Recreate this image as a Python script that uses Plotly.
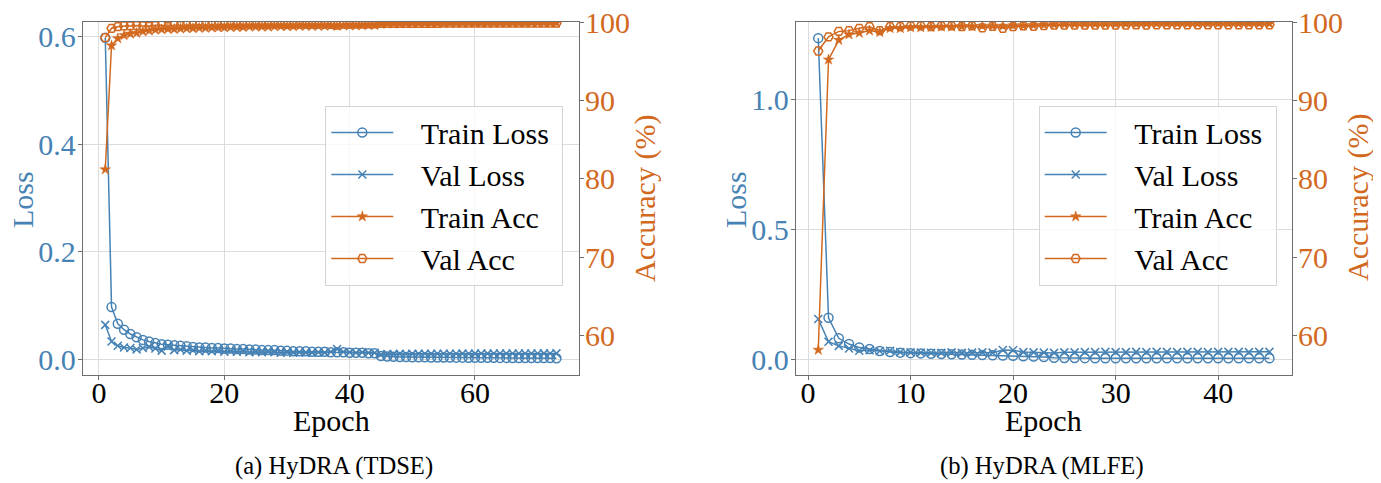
import plotly.graph_objects as go

# ---------------- data ----------------
epochs_tdse = list(range(1, 74))
train_loss_tdse = [0.598, 0.097, 0.066, 0.055, 0.047, 0.041, 0.036, 0.033, 0.030, 0.028,
                   0.027, 0.026, 0.025, 0.024, 0.023, 0.022, 0.022, 0.021, 0.021, 0.020,
                   0.020, 0.019, 0.019, 0.018, 0.018, 0.017, 0.017, 0.017, 0.016, 0.016,
                   0.015, 0.015, 0.015, 0.014, 0.014, 0.014, 0.013, 0.013, 0.013, 0.012,
                   0.012, 0.012, 0.011, 0.011, 0.006, 0.005, 0.0045, 0.004, 0.004, 0.0038,
                   0.0036, 0.0035, 0.0034, 0.0033, 0.0032, 0.0031, 0.003, 0.003, 0.0029, 0.0028,
                   0.0027, 0.0027, 0.0026, 0.0025, 0.0025, 0.0024, 0.0023, 0.0023, 0.0022, 0.0022,
                   0.0021, 0.0021, 0.002]
val_loss_tdse = [0.064, 0.033, 0.025, 0.022, 0.021, 0.018, 0.021, 0.023, 0.020, 0.016,
                 0.024, 0.017, 0.018, 0.016, 0.017, 0.015, 0.016, 0.015, 0.016, 0.014,
                 0.015, 0.014, 0.015, 0.013, 0.014, 0.013, 0.014, 0.013, 0.012, 0.013,
                 0.012, 0.013, 0.012, 0.012, 0.013, 0.012, 0.014, 0.019, 0.014, 0.013,
                 0.012, 0.013, 0.012, 0.012, 0.009, 0.0095, 0.0095, 0.010, 0.0098, 0.010,
                 0.010, 0.0102, 0.010, 0.0103, 0.0102, 0.0104, 0.0103, 0.0105, 0.0104, 0.0105,
                 0.0106, 0.0105, 0.0106, 0.0107, 0.0106, 0.0107, 0.0108, 0.0107, 0.0108, 0.0108,
                 0.0109, 0.0108, 0.0109]
train_acc_tdse = [81.2, 97.0, 97.9, 98.3, 98.5, 98.6, 98.8, 98.9, 99.0, 99.05,
                  99.1, 99.1, 99.15, 99.2, 99.2, 99.25, 99.25, 99.3, 99.3, 99.3,
                  99.35, 99.35, 99.35, 99.4, 99.4, 99.4, 99.4, 99.45, 99.45, 99.45,
                  99.45, 99.5, 99.5, 99.5, 99.5, 99.5, 99.55, 99.5, 99.55, 99.55,
                  99.55, 99.6, 99.6, 99.6, 99.75, 99.8, 99.8, 99.8, 99.82, 99.82,
                  99.83, 99.83, 99.84, 99.84, 99.84, 99.85, 99.85, 99.85, 99.85, 99.86,
                  99.86, 99.86, 99.86, 99.87, 99.87, 99.87, 99.87, 99.87, 99.88, 99.88,
                  99.88, 99.88, 99.88]
val_acc_tdse = [98.0, 99.2, 99.4, 99.5, 99.5, 99.55, 99.5, 99.45, 99.55, 99.6,
                99.4, 99.6, 99.55, 99.6, 99.6, 99.65, 99.6, 99.65, 99.6, 99.7,
                99.65, 99.7, 99.65, 99.7, 99.7, 99.7, 99.7, 99.72, 99.72, 99.7,
                99.72, 99.72, 99.74, 99.72, 99.74, 99.74, 99.7, 99.6, 99.72, 99.74,
                99.75, 99.74, 99.75, 99.75, 99.82, 99.82, 99.83, 99.83, 99.83, 99.84,
                99.84, 99.84, 99.84, 99.84, 99.85, 99.85, 99.85, 99.85, 99.85, 99.85,
                99.85, 99.85, 99.85, 99.85, 99.85, 99.85, 99.85, 99.85, 99.85, 99.85,
                99.85, 99.85, 99.85]

epochs_mlfe = list(range(1, 46))
train_loss_mlfe = [1.235, 0.160, 0.081, 0.059, 0.046, 0.040, 0.032, 0.028, 0.026, 0.024,
                   0.023, 0.022, 0.021, 0.020, 0.019, 0.018, 0.017, 0.016, 0.015, 0.014,
                   0.012, 0.011, 0.009, 0.006, 0.005, 0.005, 0.0048, 0.0047, 0.0046, 0.0045,
                   0.0045, 0.0044, 0.0044, 0.0043, 0.0043, 0.0042, 0.0042, 0.0042, 0.0041, 0.0041,
                   0.0041, 0.004, 0.004, 0.004, 0.004]
val_loss_mlfe = [0.155, 0.068, 0.052, 0.042, 0.033, 0.035, 0.032, 0.033, 0.028, 0.027,
                 0.026, 0.025, 0.025, 0.027, 0.025, 0.026, 0.027, 0.026, 0.036, 0.035,
                 0.028, 0.027, 0.026, 0.025, 0.027, 0.027, 0.028, 0.028, 0.029, 0.028,
                 0.028, 0.029, 0.028, 0.029, 0.029, 0.028, 0.029, 0.029, 0.028, 0.029,
                 0.029, 0.029, 0.028, 0.029, 0.029]
train_acc_mlfe = [58.2, 95.2, 97.7, 98.4, 98.6, 98.9, 98.7, 99.2, 99.2, 99.3,
                  99.3, 99.35, 99.4, 99.4, 99.45, 99.45, 99.5, 99.5, 99.5, 99.55,
                  99.55, 99.6, 99.65, 99.7, 99.72, 99.74, 99.75, 99.75, 99.76, 99.76,
                  99.77, 99.77, 99.78, 99.78, 99.78, 99.79, 99.79, 99.79, 99.8, 99.8,
                  99.8, 99.8, 99.8, 99.8, 99.8]
val_acc_mlfe = [96.3, 98.1, 98.8, 98.9, 99.2, 99.4, 98.9, 99.4, 99.4, 99.5,
                99.5, 99.4, 99.5, 99.5, 99.4, 99.5, 99.25, 99.45, 99.2, 99.4,
                99.5, 99.45, 99.55, 99.6, 99.6, 99.6, 99.62, 99.6, 99.62, 99.62,
                99.62, 99.63, 99.62, 99.63, 99.63, 99.63, 99.64, 99.63, 99.64, 99.64,
                99.64, 99.64, 99.64, 99.64, 99.64]

loss_ticks_tdse = [0.0, 0.2, 0.4, 0.6]
loss_ticks_mlfe = [0.0, 0.5, 1.0]
acc_ticks = [60, 70, 80, 90, 100]
epoch_ticks_tdse = [0, 20, 40, 60]
epoch_ticks_mlfe = [0, 10, 20, 30, 40]
series_names = ["Train Loss", "Val Loss", "Train Acc", "Val Acc"]
x_title = "Epoch"
loss_title = "Loss"
acc_title = "Accuracy (%)"
captions = ["(a) HyDRA (TDSE)", "(b) HyDRA (MLFE)"]

# ---------------- style ----------------
BLUE = "#4682B4"
ORANGE = "#D2691E"
FONT = "Liberation Serif"
OFF = 8                      # page body margin
W, H = 1381 - OFF, 483 - OFF
GRID = "#dcdcdc"
SPINE = "#6e6e6e"
PAD = "\u00a0\u00a0\u00a0"
TAIL = "\u00a0"

def px(x):
    return (x - OFF) / W

def py(y):
    return 1 - (y - OFF) / H

fig = go.Figure()

def add_panel(ep, tl, vl, ta, va, xa, yl, yr, leg):
    fig.add_trace(go.Scatter(x=ep, y=tl, name=PAD + series_names[0] + TAIL, mode="lines+markers",
                             line=dict(color=BLUE, width=1.5),
                             marker=dict(symbol="circle-open", size=9, color=BLUE, line=dict(width=1.5)),
                             xaxis=xa, yaxis=yl, legend=leg))
    fig.add_trace(go.Scatter(x=ep, y=vl, name=PAD + series_names[1] + TAIL, mode="lines+markers",
                             line=dict(color=BLUE, width=1.5),
                             marker=dict(symbol="x-thin-open", size=8, color=BLUE, line=dict(width=1.5, color=BLUE)),
                             xaxis=xa, yaxis=yl, legend=leg))
    fig.add_trace(go.Scatter(x=ep, y=ta, name=PAD + series_names[2] + TAIL, mode="lines+markers",
                             line=dict(color=ORANGE, width=1.5),
                             marker=dict(symbol="star", size=8, color=ORANGE, line=dict(width=0.5, color=ORANGE)),
                             xaxis=xa, yaxis=yr, legend=leg))
    fig.add_trace(go.Scatter(x=ep, y=va, name=PAD + series_names[3] + TAIL, mode="lines+markers",
                             line=dict(color=ORANGE, width=1.5),
                             marker=dict(symbol="hexagon2-open", size=9, color=ORANGE, line=dict(width=1.5)),
                             xaxis=xa, yaxis=yr, legend=leg))

add_panel(epochs_tdse, train_loss_tdse, val_loss_tdse, train_acc_tdse, val_acc_tdse, "x", "y", "y2", "legend")
add_panel(epochs_mlfe, train_loss_mlfe, val_loss_mlfe, train_acc_mlfe, val_acc_mlfe, "x2", "y3", "y4", "legend2")

ydom = [py(375), py(22)]
xdom1 = [px(82.7), px(579)]
xdom2 = [px(795.7), px(1292)]

common_x = dict(showline=True, mirror=True, linecolor=SPINE, linewidth=1, automargin=False,
                showgrid=True, gridcolor=GRID, gridwidth=1, zeroline=False,
                ticks="outside", ticklen=4, tickcolor=SPINE, ticklabelstandoff=-13,
                ticklabeloverflow="allow",
                tickfont=dict(family=FONT, size=30, color="black"))
common_yl = dict(showline=True, linecolor=SPINE, linewidth=1, showgrid=True, gridcolor=GRID,
                 gridwidth=1, zeroline=False, ticks="outside", ticklen=4, tickcolor=SPINE,
                 automargin=False, ticklabelstandoff=-4, ticklabeloverflow="allow",
                 tickfont=dict(family=FONT, size=30, color=BLUE), domain=ydom)
common_yr = dict(showline=True, linecolor=SPINE, linewidth=1, showgrid=False, zeroline=False,
                 ticks="outside", ticklen=4, tickcolor=SPINE, side="right", automargin=False,
                 ticklabelstandoff=-5, ticklabeloverflow="allow",
                 tickfont=dict(family=FONT, size=30, color=ORANGE), range=[55, 100],
                 tickvals=acc_ticks, ticktext=[str(v) for v in acc_ticks])

legend_style = dict(xanchor="right", yanchor="top",
                    bgcolor="rgba(255,255,255,0.8)", bordercolor="#d5d5d5", borderwidth=1,
                    font=dict(family=FONT, size=30, color="black"), itemwidth=62, tracegroupgap=0)

fig.update_layout(
    width=W, height=H, margin=dict(l=0, r=0, t=0, b=0, autoexpand=False),
    paper_bgcolor="white", plot_bgcolor="white",
    font=dict(family=FONT, size=30, color="black"),
    xaxis=dict(domain=xdom1, anchor="y", range=[-2.6, 76.6], tickvals=epoch_ticks_tdse, **common_x),
    xaxis2=dict(domain=xdom2, anchor="y3", range=[-1.2, 47.2], tickvals=epoch_ticks_mlfe, **common_x),
    yaxis=dict(anchor="x", range=[-0.0293, 0.6274], tickvals=loss_ticks_tdse,
               ticktext=["0.0", "0.2", "0.4", "0.6"], **common_yl),
    yaxis2=dict(anchor="x", overlaying="y", **common_yr),
    yaxis3=dict(anchor="x2", range=[-0.060, 1.297], tickvals=loss_ticks_mlfe,
                ticktext=["0.0", "0.5", "1.0"], **common_yl),
    yaxis4=dict(anchor="x2", overlaying="y3", **common_yr),
    legend=dict(x=px(563.3), y=py(105.5), **legend_style),
    legend2=dict(x=px(1276.7), y=py(105.5), **legend_style),
    showlegend=True,
)

def label(text, x, y, size=30, color="black", angle=0):
    fig.add_annotation(text=text, xref="paper", yref="paper", x=px(x), y=py(y),
                       xanchor="center", yanchor="middle", showarrow=False, textangle=angle,
                       font=dict(family=FONT, size=size, color=color))

# axis titles
label(x_title, 331, 420)
label(x_title, 1043, 420)
label(loss_title, 22, 200, color=BLUE, angle=-90)
label(loss_title, 735, 200, color=BLUE, angle=-90)
label(acc_title, 645, 199, color=ORANGE, angle=-90)
label(acc_title, 1358, 198, color=ORANGE, angle=-90)
# captions
label(captions[0], 334, 466, size=24.6)
label(captions[1], 1042, 466, size=24.6)

fig.write_html("out.html")
